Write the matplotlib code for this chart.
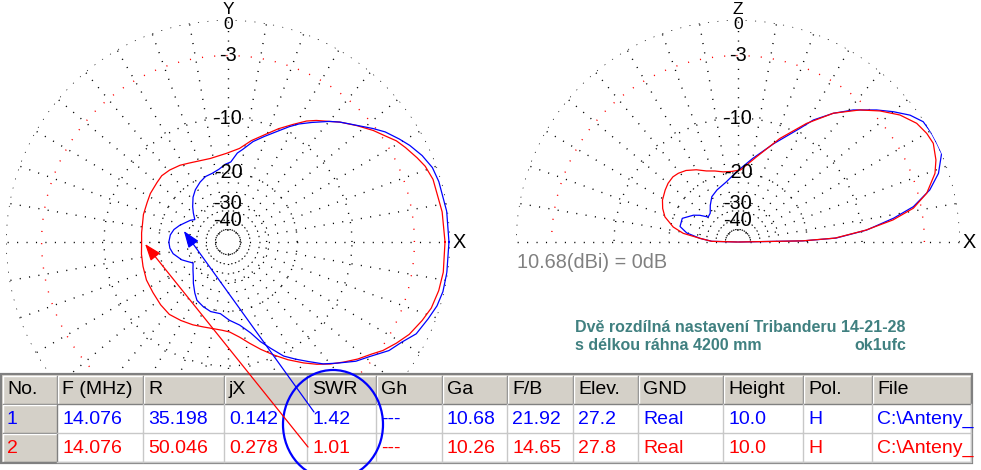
import numpy as np
import matplotlib
matplotlib.use('Agg')
import matplotlib.pyplot as plt
from matplotlib.patches import Rectangle, Ellipse

plt.rcParams['font.family'] = ['Liberation Sans', 'DejaVu Sans']

W, H = 981, 470

# azimuth pattern, deg from X axis, dB relative to 10.68 dBi
az_deg_1 = [0, 8, 16, 20, 24, 28, 31, 35, 38, 44, 47, 50, 55, 59, 62, 66, 71, 76, 81, 84,
            88, 92, 97, 103, 109, 115, 122, 128, 135, 140, 146, 150, 156, 161, 167, 173,
            180, 186, 192, 201, 206, 211, 218, 225, 230, 237, 242, 249, 256, 264, 271,
            278, 284, 288, 292, 296, 300, 304, 308, 312, 317, 321, 326, 330, 334, 339,
            343, 347, 352, 360]
az_db_1 = [-0.08, -0.09, -0.21, -0.35, -0.75, -1.3, -1.8, -2.5, -3.2, -4.6, -5.2, -5.9,
           -7.2, -8.2, -9.1, -10.4, -11.8, -13.1, -14.8, -15.6, -17.5, -18.0, -19.0,
           -19.7, -20.0, -20.8, -22.0, -23.4, -25.6, -27.3, -29.4, -28.0, -26.6, -25.2,
           -23.8, -23.0, -22.7, -22.9, -23.6, -25.7, -27.5, -29.1, -27.6, -25.9, -24.3,
           -22.2, -20.8, -20.0, -19.4, -19.3, -17.9, -16.7, -14.8, -12.9, -11.3, -9.6,
           -8.5, -7.4, -6.2, -5.3, -4.1, -3.4, -2.3, -1.75, -1.0, -0.6, -0.27, -0.11,
           -0.08, -0.08]
az_deg_2 = [0, 8, 17, 21, 24, 28, 31, 34, 37.5, 42, 47, 50, 54, 57, 61, 66, 71, 77, 83,
            91, 102, 116, 122, 129, 135, 140, 148, 154, 162, 168, 174, 180, 188, 196, 205,
            214, 223, 231, 239, 247, 254, 260, 266, 271, 277, 282, 287, 292, 297, 302,
            306, 310, 314, 318, 322, 325, 329, 333, 338, 342, 347, 352, 360]
az_db_2 = [-0.39, -0.45, -0.6, -0.85, -1.2, -1.7, -2.1, -2.7, -3.3, -4.2, -5.2, -5.9,
           -6.7, -7.4, -8.6, -10.0, -11.5, -13.0, -14.7, -15.75, -16.4, -15.9, -15.4,
           -15.0, -14.8, -15.0, -15.2, -15.5, -15.7, -16.0, -16.1, -16.2, -16.0, -15.8,
           -15.5, -15.4, -15.1, -14.9, -15.2, -15.5, -15.8, -15.9, -15.8, -15.5, -14.4,
           -13.1, -11.7, -10.3, -8.9, -7.6, -6.6, -5.7, -4.9, -4.1, -3.4, -2.75, -2.1,
           -1.5, -1.0, -0.65, -0.45, -0.36, -0.39]

# elevation pattern, deg above horizon
el_deg_1 = [0, 1, 2.3, 5.3, 8.7, 11.4, 15.2, 18.9, 23.5, 26, 29.5, 33, 36.4, 40, 43.6,
            48.9, 53.5, 58.3, 61.4, 70, 80, 91, 101, 112, 120, 127, 134, 140, 145, 149,
            157, 165, 170, 174.5, 178.5, 180]
el_db_1 = [-99, -21.0, -14.0, -9.3, -5.9, -3.7, -1.9, -0.8, 0.0, 0.0, 0.0, -0.09, -0.65,
           -1.56, -2.54, -4.06, -5.61, -7.5, -9.25, -12.9, -16.5, -19.7, -22.1, -23.6,
           -24.8, -27.0, -29.4, -29.9, -26.8, -24.9, -22.3, -22.45, -24.9, -30.2, -36.6,
           -99]
el_deg_2 = [0, 1, 2.3, 5.3, 8.1, 10.9, 14.5, 19.2, 22.5, 26.8, 29.9, 33.6, 38.1, 42.7,
            47.3, 53.5, 60, 68, 77.6, 88, 95, 102, 108, 114, 120, 126, 131, 135, 140,
            144.5, 151, 156, 161, 167, 171, 174.5, 178.5, 180]
el_db_2 = [-99, -21.3, -14.2, -9.4, -6.0, -3.74, -2.23, -1.07, -0.61, -0.25, -0.33,
           -0.59, -1.30, -2.38, -3.63, -5.6, -8.3, -11.8, -16.0, -19.3, -19.6, -19.4,
           -18.7, -18.0, -16.8, -15.8, -15.3, -15.1, -15.25, -15.6, -16.2, -17.0, -18.1,
           -20.7, -23.8, -30.2, -36.6, -99]

ring_db = [0, -10, -20, -30, -50]
half_power_db = -3
scale_labels = ['-3', '-10', '-20', '-30', '-40']
scale_db = [-3, -10, -20, -30, -40]

columns = ['No.', 'F (MHz)', 'R', 'jX', 'SWR', 'Gh', 'Ga', 'F/B', 'Elev.', 'GND',
           'Height', 'Pol.', 'File']
row_1 = ['1', '14.076', '35.198', '0.142', '1.42', '---', '10.68', '21.92', '27.2',
         'Real', '10.0', 'H', 'C:\\Anteny_']
row_2 = ['2', '14.076', '50.046', '0.278', '1.01', '---', '10.26', '14.65', '27.8',
         'Real', '10.0', 'H', 'C:\\Anteny_']

# arrows: tip (deg, dB) on the azimuth plot
arrow_1 = (166, -27.2)
arrow_2 = (181.4, -16.9)

BLUE = '#0000ff'
RED = '#ff0000'


def arrl(db):
    # ARRL log scale: 0.89 per 2 dB
    return 0.89 ** (-np.asarray(db, dtype=float) / 2)


def fx(x):
    return x / W


def fy(y):
    return 1 - y / H


fig = plt.figure(figsize=(W / 100, H / 100), dpi=100)
fig.patch.set_facecolor('white')

dots = (0, (0.8, 6))


def polar_grid(ax, half, axis_name):
    ax.axis('off')
    ax.set_ylim(0, 1)
    t = np.linspace(0, np.pi if half else 2 * np.pi, 600)
    for d in ring_db:
        ax.plot(t, np.full_like(t, arrl(d)), color='black', lw=1, ls=dots)
    ax.plot(t, np.full_like(t, arrl(half_power_db)), color=RED, lw=1, ls=(0, (0.8, 8)))
    stop = 181 if half else 360
    for a in range(0, stop, 10):
        th = np.deg2rad(a)
        ax.plot([th, th], [arrl(-50), 1], color='black', lw=1, ls=dots)
    for lab, d in zip(scale_labels, scale_db):
        ax.text(np.pi / 2, arrl(d), lab, ha='center', va='center', fontsize=14.3)
    # axis name stacked over the 0 dB label
    ax.text(np.pi / 2, 0.946, axis_name + '\n0', ha='center', va='bottom',
            fontsize=12.5, linespacing=1.0)
    ax.text(0, 1.043, 'X', ha='center', va='center', fontsize=14.3)


ax1 = fig.add_axes([fx(6), fy(464), 444 / W, 444 / H], projection='polar')
polar_grid(ax1, False, 'Y')
ax1.plot(np.deg2rad(az_deg_2), arrl(az_db_2), color=RED, lw=0.9)
ax1.plot(np.deg2rad(az_deg_1), arrl(az_db_1), color=BLUE, lw=0.9)

ax2 = fig.add_axes([fx(516), fy(464), 444 / W, 444 / H], projection='polar')
polar_grid(ax2, True, 'Z')
ax2.plot(np.deg2rad(el_deg_1), arrl(el_db_1), color=BLUE, lw=0.9)
ax2.plot(np.deg2rad(el_deg_2), arrl(el_db_2), color=RED, lw=0.9)

fig.text(fx(517), fy(263), '10.68(dBi) = 0dB', color='#808080', fontsize=14.3,
         ha='left', va='center')
teal = '#408080'
fig.text(fx(575), fy(327), 'Dvě rozdílná nastavení Tribanderu 14-21-28', color=teal,
         fontsize=11.5, fontweight='bold', ha='left', va='center')
fig.text(fx(575), fy(346), 's délkou ráhna 4200 mm', color=teal,
         fontsize=11.5, fontweight='bold', ha='left', va='center')
fig.text(fx(906), fy(346), 'ok1ufc', color=teal,
         fontsize=11.5, fontweight='bold', ha='right', va='center')

# table
tab = fig.add_axes([0, 0, 1, 100 / H])
tab.set_xlim(0, W)
tab.set_ylim(470, 370)
tab.axis('off')
col_x = [2, 57, 143, 224, 307, 376, 442, 507, 573, 638, 723, 803, 872, 971]
row_y = [375, 404, 433, 462]
tab.add_patch(Rectangle((2, 375), 969, 87, fc='white', ec='none'))
gray = '#d4d0c8'
for r in range(3):
    y0, y1 = row_y[r], row_y[r + 1]
    for c in range(13):
        x0, x1 = col_x[c], col_x[c + 1]
        if r == 0 or c == 0:
            tab.add_patch(Rectangle((x0, y0), x1 - x0, y1 - y0, fc=gray, ec='none'))
            tab.plot([x0 + 0.5, x0 + 0.5, x1 - 1], [y1 - 1, y0 + 0.5, y0 + 0.5],
                     color='white', lw=1)
            tab.plot([x0 + 0.5, x1 - 0.5, x1 - 0.5], [y1 - 0.5, y1 - 0.5, y0 + 0.5],
                     color='#808080', lw=1)
        else:
            tab.plot([x0, x1, x1], [y1 - 0.5, y1 - 0.5, y0], color='#c8c8c8', lw=1)
tab.add_patch(Rectangle((1, 374), 971, 89, fc='none', ec='#808080', lw=1.6))

text_y = [390, 419.5, 448.5]
for r, (vals, col) in enumerate([(columns, 'black'), (row_1, BLUE), (row_2, RED)]):
    for c, v in enumerate(vals):
        t = tab.text(col_x[c] + 5, text_y[r], v, color=col, fontsize=14, ha='left',
                     va='center')
        clip = Rectangle((col_x[c], row_y[r]), col_x[c + 1] - col_x[c] - 1,
                         row_y[r + 1] - row_y[r], transform=tab.transData)
        t.set_clip_path(clip)

# overlay arrows and circle
ov = fig.add_axes([0, 0, 1, 1])
ov.axis('off')
ov.set_xlim(0, 1)
ov.set_ylim(0, 1)
for (deg, db), tail, col in [(arrow_1, (314, H - 412), BLUE), (arrow_2, (308, H - 447), RED)]:
    ov.annotate('', xy=(np.deg2rad(deg), arrl(db)), xycoords=ax1.transData,
                xytext=tail, textcoords='figure pixels',
                arrowprops=dict(arrowstyle='-|>,head_length=0.6,head_width=0.22',
                                mutation_scale=17, color=col, lw=0.9,
                                shrinkA=0, shrinkB=0))
ov.add_patch(Ellipse((fx(333), fy(424.5)), 100 / W, 109 / H, transform=fig.transFigure,
                     fc='none', ec=BLUE, lw=1.6))

fig.savefig('out.png', dpi=100, facecolor='white')
